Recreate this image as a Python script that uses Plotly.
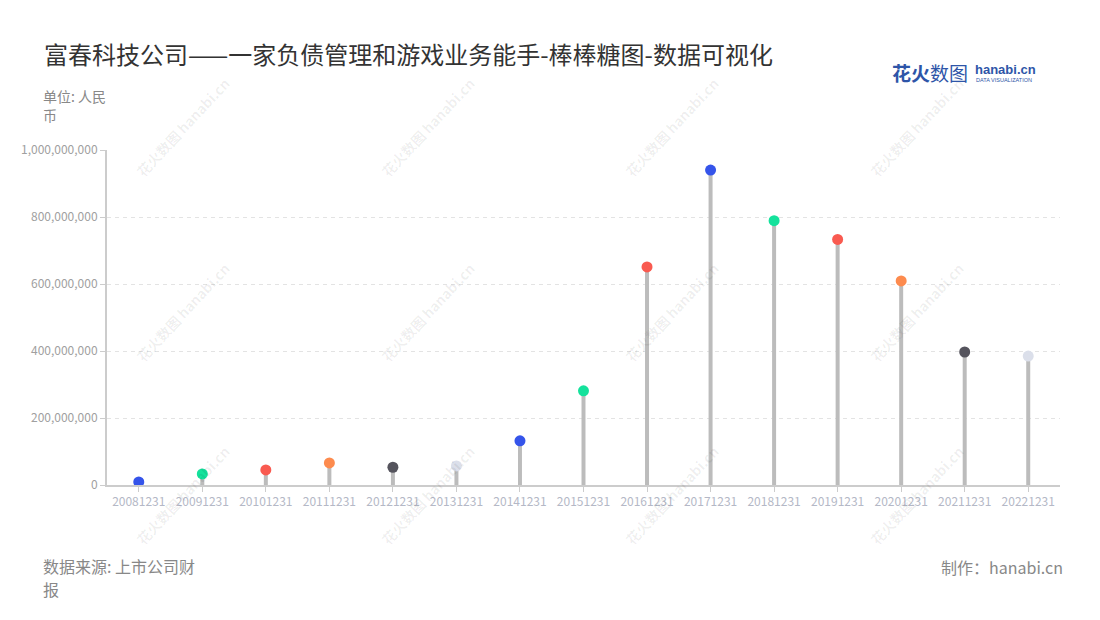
import plotly.graph_objects as go

categories = ["20081231", "20091231", "20101231", "20111231", "20121231", "20131231",
              "20141231", "20151231", "20161231", "20171231", "20181231", "20191231",
              "20201231", "20211231", "20221231"]
values = [9e6, 33e6, 45e6, 66e6, 53e6, 57e6, 132e6, 281e6, 651e6, 940e6,
          789e6, 733e6, 609e6, 397e6, 385e6]
palette = ["#3554ea", "#14e29c", "#f95a50", "#fd8b4e", "#55545d", "#dbdfea",
           "#3554ea", "#14e29c", "#f95a50"]
tick_vals = [0, 200e6, 400e6, 600e6, 800e6, 1000e6]
tick_text = ["0", "200,000,000", "400,000,000", "600,000,000", "800,000,000", "1,000,000,000"]

FONT = "Noto Sans CJK SC"
colors = [palette[i % len(palette)] for i in range(len(categories))]

# plot area in screen coords (reference): left 107, top 150, width 953, height 335
PL, PT, PW, PH = 107, 150, 953, 335
OFF = 8  # page body margin


def px(X):
    return (X - PL) / PW


def py(Y):
    return (PT + PH - Y) / PH


fig = go.Figure()

for c, v in zip(categories, values):
    fig.add_trace(go.Scatter(x=[c, c], y=[0, v], mode="lines",
                             line=dict(color="#bcbcbc", width=4),
                             hoverinfo="skip", showlegend=False))
fig.add_trace(go.Scatter(x=categories, y=values, mode="markers",
                         marker=dict(color=colors, size=11, line=dict(width=0)),
                         showlegend=False))

# watermarks
for wx in [183, 428, 672, 917]:
    for wy in [127, 312, 495]:
        fig.add_annotation(xref="paper", yref="paper", x=px(wx), y=py(wy),
                           xanchor="center", yanchor="middle",
                           text="<b>花火数图 hanabi.cn</b>", textangle=-47, showarrow=False,
                           font=dict(family=FONT, size=14, color="rgba(0,0,0,0.065)"))

fig.update_layout(
    width=1100, height=620,
    paper_bgcolor="white", plot_bgcolor="white",
    margin=dict(l=PL - OFF, r=1100 - (PL - OFF) - PW, t=PT - OFF, b=620 - (PT - OFF) - PH,
                autoexpand=False),
    font=dict(family=FONT),
    xaxis=dict(type="category", range=[-0.5, 14.5], showgrid=False,
               showline=True, linecolor="#cccccc", linewidth=2,
               ticks="outside", ticklen=5, tickcolor="#cccccc",
               tickfont=dict(family=FONT, size=12, color="#b4b8c6")),
    yaxis=dict(range=[0, 1e9], tickvals=tick_vals, ticktext=tick_text,
               showgrid=True, gridcolor="#e3e3e3", griddash="4px,4px", gridwidth=1,
               showline=True, linecolor="#cccccc", linewidth=2,
               ticks="outside", ticklen=5, tickcolor="#cccccc",
               zeroline=False,
               tickfont=dict(family=FONT, size=12, color="#a0a0a0")),
)


def text_at(X, Y, s, size, color="#888888", anchor="left", family=FONT):
    fig.add_annotation(xref="paper", yref="paper", x=px(X), y=py(Y),
                       xanchor=anchor, yanchor="middle", showarrow=False, borderpad=0,
                       text=s, font=dict(family=family, size=size, color=color))


text_at(43, 53, "富春科技公司——一家负债管理和游戏业务能手-棒棒糖图-数据可视化", 24, "#333333")
text_at(42, 96, "单位: 人民", 14)
text_at(42, 115, "币", 14)
text_at(42, 566, "数据来源: 上市公司财", 16)
text_at(42, 589, "报", 16)
text_at(1064, 567, "制作：hanabi.cn", 16, anchor="right")
# logo
text_at(891, 72, "<b>花火</b>数图", 19, "#2e55a8")
text_at(974, 69, "<b>hanabi.cn</b>", 13, "#2e55a8", family="Liberation Sans")
text_at(975, 80, "DATA VISUALIZATION", 5.5, "#2e55a8", family="Liberation Sans")

fig.write_html("out.html")
